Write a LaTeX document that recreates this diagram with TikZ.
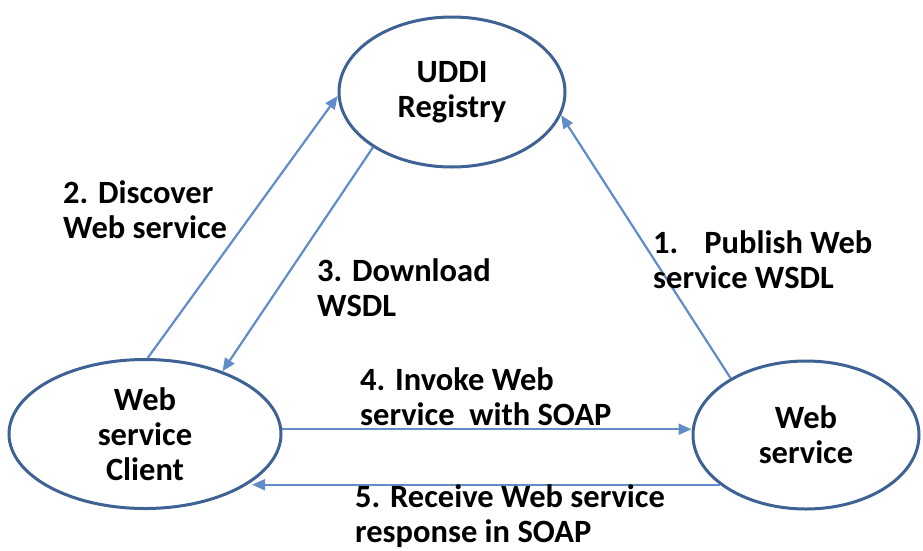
\documentclass[tikz,border=0pt]{standalone}
\usepackage{fontspec}
\setmainfont{Carlito}
\usetikzlibrary{shapes.geometric,arrows.meta}
\definecolor{ringblue}{RGB}{62,98,148}
\definecolor{linkblue}{RGB}{96,140,200}
\begin{document}
\begin{tikzpicture}[x=1pt,y=-1pt,
		link/.style={-{Triangle[length=13pt,width=11pt]},draw=linkblue,line width=2.2pt},
		lbl/.style={anchor=west,align=left,inner sep=0pt}]
				\useasboundingbox (0,0) rectangle (923,550);
				\fontsize{32.5}{35}\selectfont\bfseries
				
				\begin{scope}[every node/.style={ellipse,draw=ringblue,line width=3pt,align=center,inner sep=0pt}]
					\node[minimum width=226pt,minimum height=150pt] (UDDI) at (452,92) {UDDI\\Registry};
					\node[minimum width=272pt,minimum height=149pt] (Client) at (145,434) {Web\\service\\Client};
					\node[minimum width=226pt,minimum height=148pt] (Service) at (806,435) {Web\\service};
				\end{scope}
				
				\path (Service.143) edge[link] (UDDI.348);
				\path (Client.88) edge[link] (UDDI.182);
				\path (UDDI.215) edge[link] (Client.39);
				\path (Client.2) edge[link] (Client.2 -| Service.west);
				\path (Service.210) edge[link] (Service.210 -| Client.336);
				
				\node[lbl] (publish) at (653,260) {1.\hspace{26pt}Publish Web\\service WSDL};
				\node[lbl] (discover) at (63,210) {2. Discover\\Web service};
				\node[lbl] (download) at (317,288) {3. Download\\WSDL};
				\node[lbl] (invoke) at (360,397) {4. Invoke Web\\service\ \ with SOAP};
				\node[lbl] (receive) at (355,516) {5. Receive Web service\\response in SOAP};
			\end{tikzpicture}
\end{document}
